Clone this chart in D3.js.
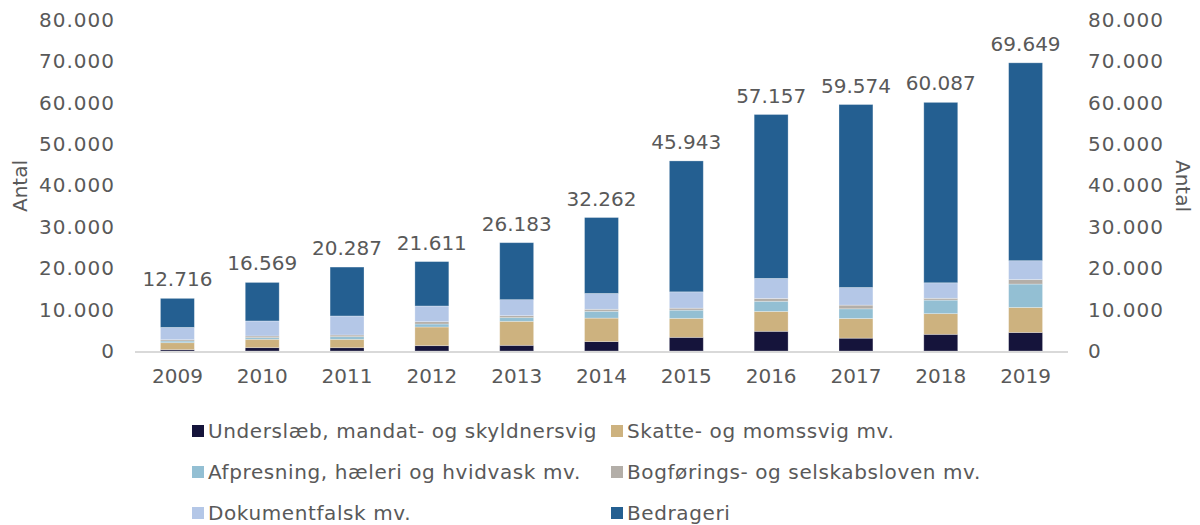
<!DOCTYPE html>
<html>
<head>
<meta charset="utf-8">
<script src="https://cdn.jsdelivr.net/npm/d3@7"></script>
<style>
	body { margin: 0; background: #fff; }
	svg text { font-family: "DejaVu Sans", sans-serif; fill: #595959; }
</style>
</head>
<body>
<script>
// Data
const years = ['2009', '2010', '2011', '2012', '2013', '2014', '2015', '2016', '2017', '2018', '2019'];
const seriesNames = [
	'Underslæb, mandat- og skyldnersvig',
	'Skatte- og momssvig mv.',
	'Afpresning, hæleri og hvidvask mv.',
	'Bogførings- og selskabsloven mv.',
	'Dokumentfalsk mv.',
	'Bedrageri'
];
const underslaeb = [320, 810, 800, 1290, 1370, 2270, 3300, 4760, 3100, 4030, 4480];
const skatte = [1690, 2020, 2020, 4510, 5800, 5680, 4590, 4800, 4760, 5000, 6050];
const afpresning = [400, 400, 645, 725, 890, 1650, 1980, 2460, 2340, 3270, 5650];
const bogfoering = [320, 400, 400, 565, 480, 480, 480, 690, 890, 440, 1090];
const dokumentfalsk = [2980, 3630, 4600, 3790, 3870, 3830, 3950, 4840, 4270, 3750, 4560];
const bedrageri = [7010, 9310, 11820, 10730, 13770, 18350, 31640, 39610, 44210, 43600, 47820];
const totals = [12716, 16569, 20287, 21611, 26183, 32262, 45943, 57157, 59574, 60087, 69649];
const yTicks = [0, 10000, 20000, 30000, 40000, 50000, 60000, 70000, 80000];

const colors = ['#15143b', '#cdb27f', '#93bfd3', '#b3aea8', '#b4c7e7', '#245f91'];
const seriesValues = [underslaeb, skatte, afpresning, bogfoering, dokumentfalsk, bedrageri];

// Build table for stacking
const table = years.map((y, i) => {
	const row = { year: y };
	seriesNames.forEach((s, k) => { row[s] = seriesValues[k][i]; });
	return row;
});
const stacked = d3.stack().keys(seriesNames)(table);

const width = 1200, height = 525;
const plot = { left: 135, right: 1068, top: 20, bottom: 351 };

const svg = d3.select('body').append('svg')
	.attr('width', width)
	.attr('height', height);

const x = d3.scaleBand()
	.domain(years)
	.range([plot.left, plot.right])
	.paddingInner(0.6)
	.paddingOuter(0.3);

const y = d3.scaleLinear()
	.domain([0, 80000])
	.range([plot.bottom, plot.top]);

const fmt = d => d3.format(',')(d).replace(/,/g, '.');

// Bars
svg.append('g').selectAll('g')
	.data(stacked)
	.enter().append('g')
	.attr('fill', (d, i) => colors[i])
	.selectAll('rect')
	.data(d => d)
	.enter().append('rect')
	.attr('x', d => x(d.data.year))
	.attr('width', x.bandwidth())
	.attr('y', d => y(d[1]))
	.attr('height', d => y(d[0]) - y(d[1]))
	.attr('stroke', '#ffffff')
	.attr('stroke-opacity', 0.35)
	.attr('stroke-width', 0.8);

// Baseline
svg.append('line')
	.attr('x1', plot.left).attr('x2', plot.right)
	.attr('y1', y(0) + 1).attr('y2', y(0) + 1)
	.attr('stroke', '#d9d9d9')
	.attr('stroke-width', 2);

// Total labels
svg.append('g').selectAll('text')
	.data(totals)
	.enter().append('text')
	.attr('x', (d, i) => x(years[i]) + x.bandwidth() / 2)
	.attr('y', d => y(d) - 12)
	.attr('text-anchor', 'middle')
	.style('font-size', '20px')
	.text(d => fmt(d));

// Axes
const leftAxis = svg.append('g')
	.attr('transform', `translate(${plot.left - 20}, 0)`)
	.call(d3.axisLeft(y).tickValues(yTicks).tickFormat(fmt).tickSize(0).tickPadding(0));
const rightAxis = svg.append('g')
	.attr('transform', `translate(${plot.right + 20}, 0)`)
	.call(d3.axisRight(y).tickValues(yTicks).tickFormat(fmt).tickSize(0).tickPadding(0));
[leftAxis, rightAxis].forEach(a => {
	a.select('.domain').remove();
	a.selectAll('text')
		.style('font-size', '20px')
		.style('letter-spacing', '1px')
		.style('font-family', '"DejaVu Sans", sans-serif')
		.attr('fill', '#595959');
});

const xAxis = svg.append('g')
	.attr('transform', `translate(0, ${plot.bottom + 18})`)
	.call(d3.axisBottom(x).tickSize(0).tickPadding(0));
xAxis.select('.domain').remove();
xAxis.selectAll('text')
	.style('font-size', '20px')
	.style('font-family', '"DejaVu Sans", sans-serif')
	.attr('fill', '#595959')
	.attr('dy', '0.71em');

// Axis titles
svg.append('text')
	.attr('transform', `translate(27, 186) rotate(-90)`)
	.attr('text-anchor', 'middle')
	.style('font-size', '20px')
	.text('Antal');
svg.append('text')
	.attr('transform', `translate(1176, 186) rotate(90)`)
	.attr('text-anchor', 'middle')
	.style('font-size', '20px')
	.text('Antal');

// Legend
const legendPos = [
	{ x: 192, y: 431 }, { x: 611, y: 431 },
	{ x: 192, y: 472 }, { x: 611, y: 472 },
	{ x: 192, y: 513 }, { x: 611, y: 513 }
];
const legend = svg.append('g').selectAll('g')
	.data(seriesNames)
	.enter().append('g')
	.attr('transform', (d, i) => `translate(${legendPos[i].x}, ${legendPos[i].y})`);
legend.append('rect')
	.attr('x', 0).attr('y', -6)
	.attr('width', 12).attr('height', 12)
	.attr('fill', (d, i) => colors[i]);
legend.append('text')
	.attr('x', 16)
	.attr('dy', '0.36em')
	.style('font-size', '20px')
	.style('letter-spacing', '0.6px')
	.text(d => d);
</script>
</body>
</html>
